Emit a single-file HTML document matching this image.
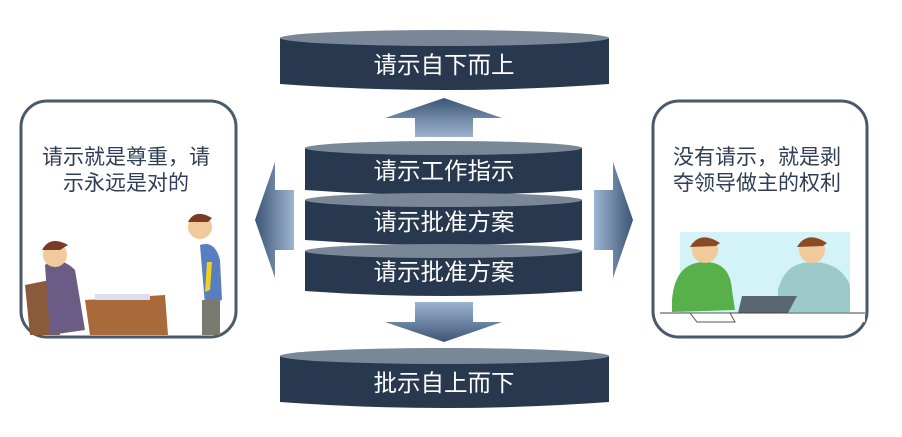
<!DOCTYPE html>
<html><head><meta charset="utf-8"><style>
html,body{margin:0;padding:0;background:#fff;width:902px;height:437px;overflow:hidden}
svg text{font-family:"Liberation Sans","Noto Sans CJK SC",sans-serif}
</style></head><body>
<svg width="902" height="437" viewBox="0 0 902 437" xmlns="http://www.w3.org/2000/svg">
<defs>
<linearGradient id="gv" x1="0" y1="0" x2="0" y2="1"><stop offset="0" stop-color="#3d5576"/><stop offset="1" stop-color="#9db4d0"/></linearGradient>
<linearGradient id="gvd" x1="0" y1="0" x2="0" y2="1"><stop offset="0" stop-color="#9db4d0"/><stop offset="1" stop-color="#3d5576"/></linearGradient>
<linearGradient id="gl" x1="0" y1="0" x2="1" y2="0"><stop offset="0" stop-color="#3d5576"/><stop offset="1" stop-color="#9db4d0"/></linearGradient>
<linearGradient id="gr" x1="0" y1="0" x2="1" y2="0"><stop offset="0" stop-color="#9db4d0"/><stop offset="1" stop-color="#3d5576"/></linearGradient>
</defs>
<path d="M280 38 L280 84 Q444 96 609 84 L609 38 Z" fill="#27384f"/>
<ellipse cx="444.5" cy="38" rx="164.5" ry="8" fill="#7a8796"/>
<text x="444" y="73" font-size="23.5" fill="#fff" text-anchor="middle">请示自下而上</text>
<path d="M385 118 L444 98 L502 118 L473 118 L473 137 L415 137 L415 118 Z" fill="url(#gv)"/>
<path d="M305 148 L305 190 Q444 200 582 190 L582 148 Z" fill="#27384f"/>
<ellipse cx="443.5" cy="148" rx="138.5" ry="7" fill="#7a8796"/>
<text x="444" y="179" font-size="23.5" fill="#fff" text-anchor="middle">请示工作指示</text>
<path d="M305 200 L305 240 Q444 250 582 240 L582 200 Z" fill="#27384f"/>
<ellipse cx="443.5" cy="200" rx="138.5" ry="7" fill="#7a8796"/>
<text x="444" y="230" font-size="23.5" fill="#fff" text-anchor="middle">请示批准方案</text>
<path d="M305 251 L305 291 Q444 301 582 291 L582 251 Z" fill="#27384f"/>
<ellipse cx="443.5" cy="251" rx="138.5" ry="7" fill="#7a8796"/>
<text x="444" y="280" font-size="23.5" fill="#fff" text-anchor="middle">请示批准方案</text>
<path d="M415 302 L473 302 L473 322 L502 322 L444 342 L385 322 L415 322 Z" fill="url(#gvd)"/>
<path d="M280 356 L280 402 Q444 414 609 402 L609 356 Z" fill="#27384f"/>
<ellipse cx="444.5" cy="356" rx="164.5" ry="8" fill="#7a8796"/>
<text x="444" y="391" font-size="23.5" fill="#fff" text-anchor="middle">批示自上而下</text>
<path d="M255 220 L275 162 L275 190 L294 190 L294 250 L275 250 L275 278 Z" fill="url(#gl)"/>
<path d="M633 220 L613 162 L613 190 L594 190 L594 250 L613 250 L613 278 Z" fill="url(#gr)"/>
<rect x="21" y="101" width="215" height="236" rx="26" fill="#fff" stroke="#4b5a6b" stroke-width="3"/>
<text x="42" y="164" font-size="21" fill="#2f3d55">请示就是尊重，请</text>
<text x="63" y="190" font-size="21" fill="#2f3d55">示永远是对的</text>
<path d="M25 285 L50 280 L60 335 L30 335 Z" fill="#8a5a3a"/>
<path d="M45 265 Q60 255 75 270 L85 330 L50 335 Z" fill="#6b5c86"/>
<circle cx="55" cy="255" r="12" fill="#f2c99a"/>
<path d="M42 250 Q50 235 68 245 L60 250 Z" fill="#7a3b24"/>
<path d="M85 300 L165 295 L168 335 L90 335 Z" fill="#a86a3a"/>
<rect x="95" y="294" width="55" height="6" fill="#dde"/>
<path d="M200 245 Q215 240 220 260 L222 300 L205 305 Z" fill="#5a7fc0"/>
<rect x="202" y="300" width="18" height="35" fill="#7a7a70"/>
<circle cx="200" cy="227" r="12" fill="#f2c99a"/>
<path d="M188 222 Q195 208 212 218 L208 222 Z" fill="#7a3b24"/>
<path d="M207 262 L212 262 L210 290 L205 292 Z" fill="#f0d020"/>
<rect x="653" y="101" width="214" height="236" rx="26" fill="#fff" stroke="#4b5a6b" stroke-width="3"/>
<text x="673" y="164" font-size="21" fill="#2f3d55">没有请示，就是剥</text>
<text x="673" y="190" font-size="21" fill="#2f3d55">夺领导做主的权利</text>
<rect x="680" y="232" width="170" height="90" fill="#d4f3f8"/>
<path d="M672 300 Q675 262 705 262 Q730 262 732 290 L735 310 L672 312 Z" fill="#58b04a"/>
<circle cx="705" cy="250" r="13" fill="#f2c99a"/>
<path d="M690 247 Q700 230 720 243 L716 246 Z" fill="#8a4a24"/>
<path d="M778 290 Q785 262 812 262 Q840 262 850 285 L850 312 L778 312 Z" fill="#9ccac8"/>
<circle cx="812" cy="250" r="13" fill="#f2c99a"/>
<path d="M797 247 Q807 230 827 243 L823 246 Z" fill="#8a4a24"/>
<path d="M742 296 L797 296 L788 313 L738 313 Z" fill="#5a6670"/>
<rect x="660" y="313" width="205" height="9" fill="#fff"/>
<line x1="660" y1="313" x2="865" y2="313" stroke="#444" stroke-width="1"/>
<path d="M690 313 L730 313 L735 322 L697 322 Z" fill="#fff" stroke="#555"/>
</svg>
</body></html>
